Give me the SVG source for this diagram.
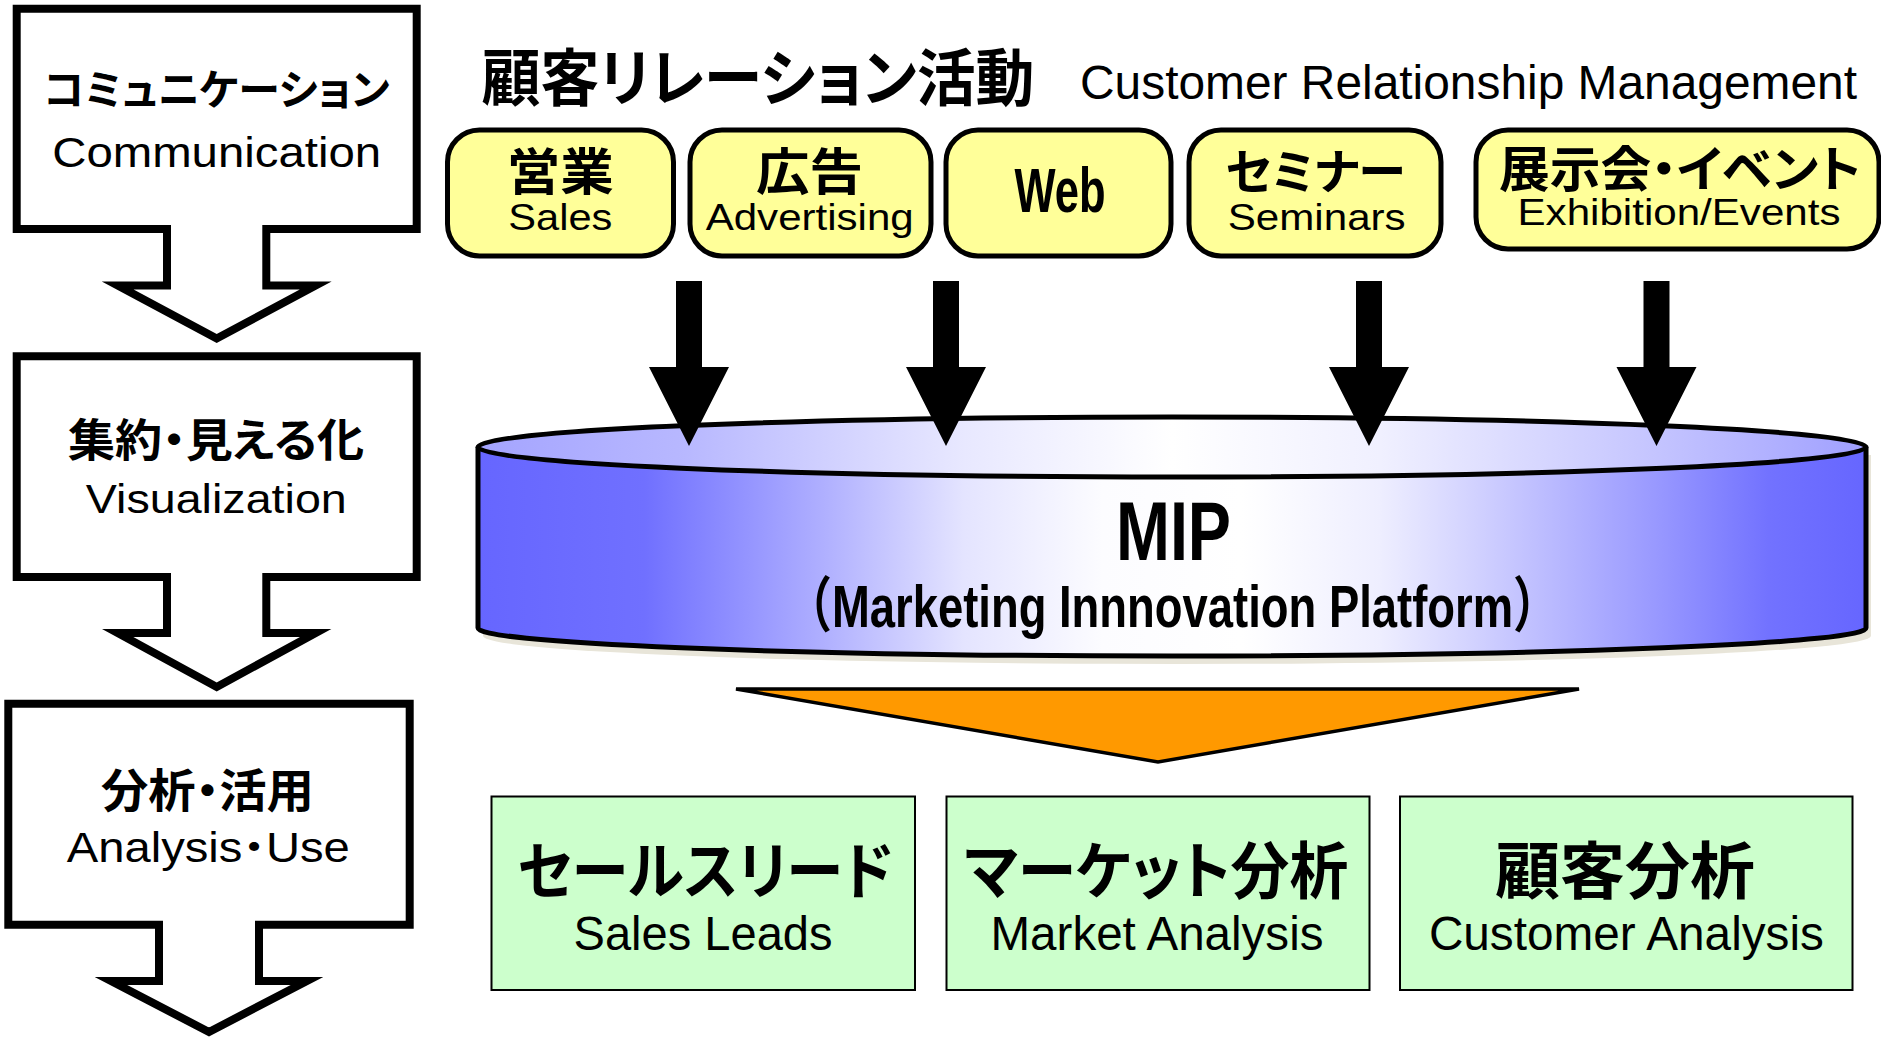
<svg xmlns="http://www.w3.org/2000/svg" width="1881" height="1038" viewBox="0 0 1881 1038">
  <defs>
    <linearGradient id="cylBody" x1="0" y1="0" x2="1" y2="0">
      <stop offset="0" stop-color="#6666ff"/>
      <stop offset="0.12" stop-color="#7070ff"/>
      <stop offset="0.25" stop-color="#b0b0ff"/>
      <stop offset="0.35" stop-color="#e4e4ff"/>
      <stop offset="0.45" stop-color="#fcfcff"/>
      <stop offset="0.55" stop-color="#ffffff"/>
      <stop offset="0.65" stop-color="#eeeeff"/>
      <stop offset="0.75" stop-color="#c4c4ff"/>
      <stop offset="0.85" stop-color="#9898ff"/>
      <stop offset="0.93" stop-color="#7272ff"/>
      <stop offset="1" stop-color="#6666ff"/>
    </linearGradient>
    <linearGradient id="cylTop" x1="0" y1="0" x2="1" y2="0">
      <stop offset="0" stop-color="#a4a4ff"/>
      <stop offset="0.15" stop-color="#b8b8ff"/>
      <stop offset="0.35" stop-color="#e8e8ff"/>
      <stop offset="0.5" stop-color="#ffffff"/>
      <stop offset="0.65" stop-color="#f0f0ff"/>
      <stop offset="0.85" stop-color="#c4c4ff"/>
      <stop offset="1" stop-color="#a0a0ff"/>
    </linearGradient>
  </defs>
  <style>
    .step { fill: #ffffff; stroke: #000000; stroke-width: 8; stroke-linejoin: miter; stroke-miterlimit: 10; }
    .channel { fill: #ffff99; stroke: #000000; stroke-width: 5; }
    .result { fill: #ccffcc; stroke: #000000; stroke-width: 2; }
    .push { fill: #000000; }
    .jp { font-family: "Noto Sans CJK JP", "Noto Sans CJK SC", sans-serif; font-weight: 700; fill: #000000; font-feature-settings: "palt" 1; }
    .en { font-family: "Liberation Sans", Arial, "Noto Sans CJK JP", sans-serif; fill: #000000; }
    .enb { font-family: "Liberation Sans", Arial, "Noto Sans CJK JP", sans-serif; font-weight: 700; fill: #000000; }
    .prop { font-feature-settings: "palt" 1; }
  </style>

  <rect width="1881" height="1038" fill="#ffffff"/>

  <!-- left column: process steps as block arrows -->
  <g id="step-communication">
    <path class="step" d="M16.7,8.8 H416.7 V229 H266.3 V285.5 H315.7 L216.7,338.5 L117.7,285.5 H167 V229 H16.7 Z"/>
    <text class="jp" x="216.7" y="105" font-size="42" text-anchor="middle" textLength="346" lengthAdjust="spacingAndGlyphs">コミュニケーション</text>
    <text class="en" x="216.7" y="166.7" font-size="42" text-anchor="middle" textLength="329" lengthAdjust="spacingAndGlyphs">Communication</text>
  </g>
  <g id="step-visualization">
    <path class="step" d="M16.7,356.3 H416.7 V577 H266.3 V633 H315.7 L216.7,687 L117.7,633 H167 V577 H16.7 Z"/>
    <text class="jp" x="216" y="457" font-size="45" text-anchor="middle" textLength="296" lengthAdjust="spacingAndGlyphs">集約・見える化</text>
    <text class="en" x="216.3" y="513.3" font-size="41" text-anchor="middle" textLength="261" lengthAdjust="spacingAndGlyphs">Visualization</text>
  </g>
  <g id="step-analysis">
    <path class="step" d="M8.3,703.7 H409.7 V924.7 H259 V981 H307 L209,1032 L111,981 H159 V924.7 H8.3 Z"/>
    <text class="jp" x="207.4" y="807" font-size="46" text-anchor="middle" textLength="213" lengthAdjust="spacingAndGlyphs">分析・活用</text>
    <text class="en prop" x="208.3" y="861.7" font-size="42" text-anchor="middle" textLength="283" lengthAdjust="spacingAndGlyphs">Analysis・Use</text>
  </g>

  <!-- heading -->
  <g id="heading">
    <text class="jp" x="758" y="101" font-size="62" text-anchor="middle" textLength="553" lengthAdjust="spacingAndGlyphs">顧客リレーション活動</text>
    <text class="en" x="1080" y="99.3" font-size="48" textLength="777" lengthAdjust="spacingAndGlyphs">Customer Relationship Management</text>
  </g>

  <!-- channels -->
  <g id="channel-sales">
    <rect class="channel" x="447.5" y="130" width="226" height="126" rx="32" ry="32"/>
    <text class="jp" x="560.3" y="190" font-size="50" text-anchor="middle" textLength="107" lengthAdjust="spacingAndGlyphs">営業</text>
    <text class="en" x="560.3" y="230" font-size="37" text-anchor="middle" textLength="104" lengthAdjust="spacingAndGlyphs">Sales</text>
  </g>
  <g id="channel-advertising">
    <rect class="channel" x="690" y="130" width="241" height="126" rx="32" ry="32"/>
    <text class="jp" x="809.5" y="190" font-size="50" text-anchor="middle" textLength="107" lengthAdjust="spacingAndGlyphs">広告</text>
    <text class="en" x="809.7" y="230" font-size="37" text-anchor="middle" textLength="208" lengthAdjust="spacingAndGlyphs">Advertising</text>
  </g>
  <g id="channel-web">
    <rect class="channel" x="946" y="130" width="225" height="126" rx="32" ry="32"/>
    <text class="enb" x="1060" y="211.7" font-size="63" text-anchor="middle" textLength="91" lengthAdjust="spacingAndGlyphs">Web</text>
  </g>
  <g id="channel-seminars">
    <rect class="channel" x="1189" y="130" width="252" height="126" rx="32" ry="32"/>
    <text class="jp" x="1315.5" y="189" font-size="48" text-anchor="middle" textLength="180" lengthAdjust="spacingAndGlyphs">セミナー</text>
    <text class="en" x="1316.7" y="230" font-size="37" text-anchor="middle" textLength="178" lengthAdjust="spacingAndGlyphs">Seminars</text>
  </g>
  <g id="channel-events">
    <rect class="channel" x="1476" y="130" width="403" height="119" rx="32" ry="32"/>
    <text class="jp" x="1680" y="187" font-size="49" text-anchor="middle" textLength="362" lengthAdjust="spacingAndGlyphs">展示会・イベント</text>
    <text class="en" x="1679" y="225" font-size="37" text-anchor="middle" textLength="323" lengthAdjust="spacingAndGlyphs">Exhibition/Events</text>
  </g>

  <!-- platform cylinder -->
  <g id="platform-mip">
    <path d="M483,455 V636 A694,28 0 0 0 1871,636 V455 Z" fill="#e8e5d9"/>
    <path d="M478,447 V628 A694,28 0 0 0 1866,628 V447" fill="url(#cylBody)" stroke="#000000" stroke-width="5"/>
    <ellipse cx="1172" cy="447" rx="694" ry="30" fill="url(#cylTop)" stroke="#000000" stroke-width="5"/>
    <text class="enb" x="1173.5" y="560" font-size="84" text-anchor="middle" textLength="115" lengthAdjust="spacingAndGlyphs">MIP</text>
    <text class="enb" x="1172.5" y="627" font-size="60" text-anchor="middle" textLength="772" lengthAdjust="spacingAndGlyphs">（Marketing Innnovation Platform）</text>
  </g>

  <!-- flows into and out of the platform -->
  <g id="connectors">
    <polygon class="push" points="676,281 702,281 702,367 729,367 689,446 649,367 676,367"/>
    <polygon class="push" points="933,281 959,281 959,367 986,367 946,446 906,367 933,367"/>
    <polygon class="push" points="1356,281 1382,281 1382,367 1409,367 1369,446 1329,367 1356,367"/>
    <polygon class="push" points="1643.5,281 1669.5,281 1669.5,367 1696.5,367 1656.5,446 1616.5,367 1643.5,367"/>
    <polygon points="736,689 1579,689 1158,762" fill="#ff9900" stroke="#000000" stroke-width="3.5" stroke-linejoin="miter" stroke-miterlimit="10"/>
  </g>

  <!-- outcomes -->
  <g id="result-sales-leads">
    <rect class="result" x="491.5" y="796.5" width="423.5" height="193.5"/>
    <text class="jp" x="705.4" y="894" font-size="62" text-anchor="middle" textLength="376" lengthAdjust="spacingAndGlyphs">セールスリード</text>
    <text class="en" x="703" y="950" font-size="48" text-anchor="middle" textLength="259" lengthAdjust="spacingAndGlyphs">Sales Leads</text>
  </g>
  <g id="result-market-analysis">
    <rect class="result" x="946.5" y="796.5" width="423" height="193.5"/>
    <text class="jp" x="1156.3" y="894" font-size="62" text-anchor="middle" textLength="384" lengthAdjust="spacingAndGlyphs">マーケット分析</text>
    <text class="en" x="1157" y="950" font-size="48" text-anchor="middle" textLength="333" lengthAdjust="spacingAndGlyphs">Market Analysis</text>
  </g>
  <g id="result-customer-analysis">
    <rect class="result" x="1400" y="796.5" width="452.5" height="193.5"/>
    <text class="jp" x="1625" y="894" font-size="62" text-anchor="middle" textLength="260" lengthAdjust="spacingAndGlyphs">顧客分析</text>
    <text class="en" x="1626.4" y="950" font-size="48" text-anchor="middle" textLength="395" lengthAdjust="spacingAndGlyphs">Customer Analysis</text>
  </g>
</svg>
